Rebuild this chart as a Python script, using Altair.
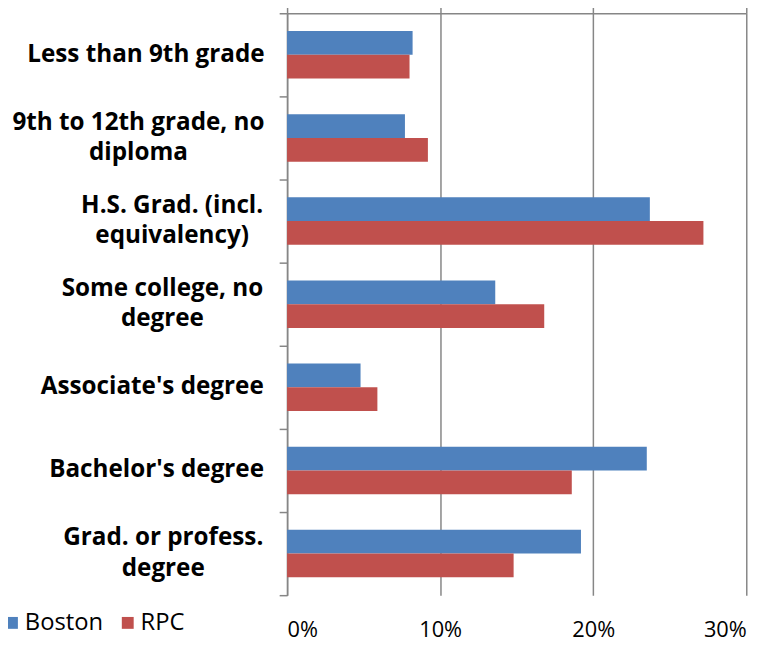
import altair as alt
import pandas as pd

categories = [
    "Less than 9th grade",
    "9th to 12th grade, no|diploma",
    "H.S. Grad. (incl.|equivalency)",
    "Some college, no|degree",
    "Associate's degree",
    "Bachelor's degree",
    "Grad. or profess.|degree",
]
boston = [8.2, 7.7, 23.7, 13.6, 4.8, 23.5, 19.2]
rpc = [8.0, 9.2, 27.2, 16.8, 5.9, 18.6, 14.8]
series = ["Boston", "RPC"]
colors = ["#4F81BD", "#C0504D"]
x_ticks = [0, 0.1, 0.2, 0.3]

rows = []
for c, b, r in zip(categories, boston, rpc):
    rows.append({"cat": c, "series": "Boston", "value": b / 100})
    rows.append({"cat": c, "series": "RPC", "value": r / 100})
df = pd.DataFrame(rows)

W, H = 464, 588
font = "Open Sans"
gray = "#868686"
label_size = 24.5
line_h = 31
label_gap = 26  # px from the axis line to the right edge of the label block
band = H / len(categories)

# approximate advance widths (em) of Open Sans Bold, used to centre the
# lines of a two-line label on each other (Excel style)
_w = {
    "a": .58, "b": .62, "c": .50, "d": .62, "e": .58, "f": .38, "g": .55, "h": .64,
    "i": .29, "j": .29, "k": .58, "l": .29, "m": .96, "n": .64, "o": .61, "p": .62,
    "q": .62, "r": .43, "s": .50, "t": .40, "u": .64, "v": .55, "w": .82, "x": .56,
    "y": .55, "z": .48, " ": .26, ".": .29, ",": .29, "(": .34, ")": .34, "'": .25,
    "H": .74, "S": .55, "G": .70, "L": .53, "A": .69, "B": .66,
}


def est_width(s):
    return sum(_w.get(ch, .57) for ch in s) * label_size


label_rows = []
for c in categories:
    lines = c.split("|")
    n = len(lines)
    wmax = max(est_width(s) for s in lines)
    for i, s in enumerate(lines):
        label_rows.append({"cat": c, "line": s,
                           "dy": band / 2 + (i - (n - 1) / 2) * line_h,
                           "xc": -label_gap - wmax / 2})
labels_df = pd.DataFrame(label_rows)

yscale = alt.Scale(domain=categories, paddingInner=0, paddingOuter=0)
xscale = alt.Scale(domain=[0, 0.3], nice=False, zero=True)
yaxis = alt.Axis(
    title=None, tickBand="extent", domain=True, domainColor=gray, domainWidth=1.5,
    ticks=True, tickSize=8, tickColor=gray, tickWidth=1.5, labels=False, grid=False,
)

bars = alt.Chart(df).mark_bar().encode(
    x=alt.X(
        "value:Q",
        scale=xscale,
        axis=alt.Axis(
            orient="bottom", values=x_ticks, format="%", domain=False, ticks=False,
            grid=True, gridColor=gray, gridWidth=1.5, labelFont=font, labelFontSize=22,
            labelColor="black", labelPadding=25, title=None,
        ),
    ),
    y=alt.Y("cat:N", scale=yscale, sort=categories, axis=yaxis),
    yOffset=alt.YOffset("series:N", sort=series, scale=alt.Scale(paddingInner=0, paddingOuter=0.75)),
    color=alt.Color(
        "series:N",
        sort=series,
        scale=alt.Scale(domain=series, range=colors),
        legend=alt.Legend(
            orient="none", legendX=-290, legendY=604, direction="horizontal",
            symbolType="square", symbolSize=144, symbolStrokeWidth=0, padding=0,
            labelFont=font, labelFontSize=24, labelColor="black", labelOffset=1,
            columnPadding=12, title=None,
        ),
    ),
)

top = alt.Chart(df).mark_point(opacity=0).encode(
    x=alt.X(
        "value:Q",
        scale=xscale,
        axis=alt.Axis(
            orient="top", values=x_ticks, labels=False, grid=False, domain=True,
            domainColor=gray, domainWidth=1.5, ticks=True, tickSize=10, tickColor=gray,
            tickWidth=1.5, title=None,
        ),
    ),
)

cat_labels = alt.Chart(labels_df).mark_text(
    font=font, fontWeight="bold", fontSize=label_size, color="black",
    align="center", baseline="middle",
).encode(
    x=alt.X("xc:Q", scale=None, axis=None),
    y=alt.Y("cat:N", scale=yscale, sort=categories, axis=yaxis),
    yOffset=alt.YOffset("dy:Q", scale=None),
    text="line:N",
)

chart = (
    alt.layer(alt.layer(bars, top).resolve_axis(x="independent"), cat_labels)
    .resolve_scale(x="independent", yOffset="independent")
    .properties(
        width=W, height=H, autosize="none",
        padding={"left": 282, "top": 2, "right": 27, "bottom": 45},
    )
    .configure_view(stroke=None)
)

chart.save("out.html", embed_options={"renderer": "svg", "actions": False})
